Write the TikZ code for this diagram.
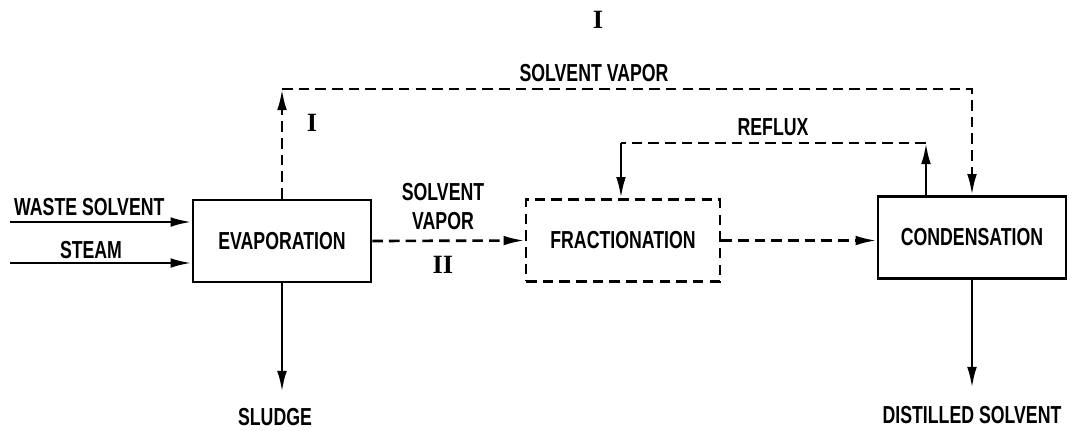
\documentclass[tikz,border=0pt]{standalone}
\usepackage{fontspec}
\newfontfamily\lblfont[FakeStretch=0.72]{Liberation Sans}
\newfontfamily\numfont{Liberation Serif}
\usetikzlibrary{arrows.meta}
\tikzset{
  unit/.style={draw, line width=1.5pt, minimum width=#1, minimum height=1.64cm, inner sep=0pt},
  flow/.style={line width=1.5pt, -{Latex[length=12pt,width=5.5pt]}},
  vap/.style={line width=1.5pt, dash pattern=on 6pt off 3.5pt},
  roman/.style={font=\numfont\bfseries\fontsize{15}{18}\selectfont},
}
\begin{document}
\begin{tikzpicture}[x=0.02cm, y=-0.02cm,
  every node/.style={font=\lblfont\bfseries\fontsize{14}{16.5}\selectfont}]
  \useasboundingbox (0,0) rectangle (1073,430);
  \node[unit=3.56cm] (evap) at (282,241) {EVAPORATION};
  \node[unit=3.88cm, vap] (frac) at (623,240.5) {FRACTIONATION};
  \node[unit=3.76cm] (cond) at (972,237.5) {CONDENSATION};
  \coordinate (ws) at (10,222);
  \coordinate (st) at (10,263);
  \coordinate (sl) at (282,392);
  \coordinate (ds) at (972,388);
  \coordinate (v1) at (282,89);
  \coordinate (r1) at (926,143);
  \coordinate (r2) at (621,143);
  \draw[flow] (ws) -- (ws -| evap.west);
  \draw[flow] (st) -- (st -| evap.west);
  \draw[flow] (evap.south) -- (sl);
  \draw[flow] (cond.south) -- (ds);
  \draw[flow, vap] (evap.north) -- (v1);
  \draw[flow, vap] (v1) -| (cond.north);
  \draw[flow, vap] (evap.east) -- (frac.west);
  \draw[flow, vap] (frac.east) -- (frac.east -| cond.west);
  \draw[flow] (r1 |- cond.north) -- (r1);
  \draw[vap] (r1) -- (r2);
  \draw[flow] (r2) -- (r2 |- frac.north);
  \node[anchor=west] (wsl) at (8,207) {WASTE SOLVENT};
  \node (stl) at (91,250) {STEAM};
  \node (sll) at (275,417) {SLUDGE};
  \node (dsl) at (972,415) {DISTILLED SOLVENT};
  \node[align=center] (svl) at (443,207) {SOLVENT\\VAPOR};
  \node[roman] (iil) at (443,265) {II};
  \node (rfl) at (773,127) {REFLUX};
  \node (tvl) at (594,73) {SOLVENT VAPOR};
  \node[roman] (itop) at (598,20) {I};
  \node[roman] (il) at (312,123) {I};
\end{tikzpicture}
\end{document}
